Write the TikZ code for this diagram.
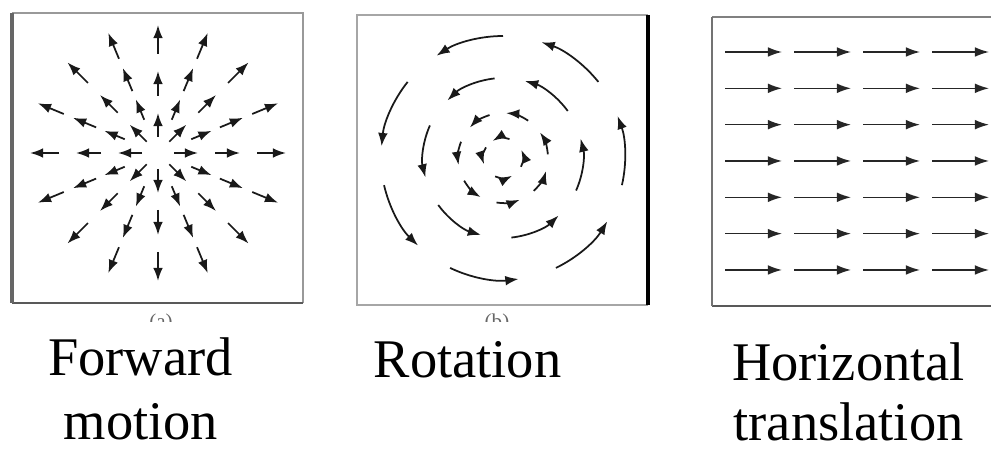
\documentclass[tikz,border=0pt]{standalone}
\usepackage{fontspec}
\setmainfont{Liberation Serif}
\usepackage{tikz}
\usetikzlibrary{arrows.meta}

\tikzset{
  flow/.style={-{Latex[length=7.5pt,width=5.5pt]}, line width=1pt, black!90},
  shift flow/.style={-{Latex[length=8pt,width=5.5pt]}, line width=0.8pt, black!85},
  caption/.style={anchor=base, inner sep=0pt, font=\fontsize{31}{37}\selectfont},
  sublabel/.style={anchor=north, inner sep=0pt, text=black!60, font=\fontsize{12}{14}\selectfont},
}

\begin{document}
\begin{tikzpicture}[x=0.02cm, y=0.02cm]
  \useasboundingbox (0,0) rectangle (991,453);
  % (a) radial field
  \draw[line width=1.1pt, black!40] (12,440) -- (303,440) -- (303,150);
  \draw[line width=1.4pt, black!65] (303,150) -- (12,150);
  \draw[line width=2pt, black!60] (12,150) -- (12,440);
  \begin{scope}[shift={(158,300)}]
    % rays on the axes and diagonals
    \foreach \a in {0,45,...,315} {
      \draw[flow] (\a:16) -- (\a:40);
      \draw[flow] (\a:57) -- (\a:82);
      \draw[flow] (\a:99) -- (\a:128);
    }
    % rays in between
    \foreach \a in {22.5,67.5,...,337.5} {
      \draw[flow] (\a:36) -- (\a:58);
      \draw[flow] (\a:67) -- (\a:92);
      \draw[flow] (\a:102) -- (\a:130);
    }
  \end{scope}
  % (b) rotation field
  \draw[line width=1.1pt, black!35] (648,438) -- (357,438) -- (357,148) -- (648,148);
  \draw[line width=2pt, black] (648,148) -- (648,438);
  \begin{scope}[shift={(503,295)}]
    \foreach \k in {0,...,6} {
      \pgfmathsetmacro\s{90+51.43*\k}
      \draw[flow] (\s:122) arc[start angle=\s, delta angle=33, radius=122];
      \pgfmathsetmacro\s{56+51.43*\k}
      \draw[flow] (\s:45) arc[start angle=\s, delta angle=30, radius=45];
    }
    \foreach \k in {0,...,5} {
      \pgfmathsetmacro\s{96+60*\k}
      \draw[flow] (\s:80) arc[start angle=\s, delta angle=38, radius=80];
    }
    \foreach \s in {-26,71,148,247} {
      \draw[flow] (\s:20) arc[start angle=\s, delta angle=50, radius=20];
    }
  \end{scope}
  % (c) translation field
  \draw[line width=1.1pt, black!50] (991,436) -- (712,436);
  \draw[line width=1.6pt, black!65] (712,147) -- (991,147);
  \draw[line width=1.6pt, black!55] (712,147) -- (712,436);
  \foreach \r in {0,...,6} {
    \foreach \c in {0,...,3} {
      \draw[shift flow] (725+69*\c, 401-36.33*\r) -- ++(57,0);
    }
  }
  % cut-off sub-labels
  \begin{scope}
    \clip (100,131) rectangle (560,140);
    \node[sublabel] (suba) at (161,139) {(a)};
    \node[sublabel] (subb) at (497,139) {(b)};
  \end{scope}
  % captions
  \node[caption] (fwdtop) at (140.5,77) {Forward};
  \node[caption] (fwdbot) at (141,13) {motion};
  \node[caption] (rot) at (467.5,75) {Rotation};
  \node[caption] (hortop) at (848.5,72) {Horizontal};
  \node[caption] (horbot) at (848.5,12) {translation};
\end{tikzpicture}
\end{document}
